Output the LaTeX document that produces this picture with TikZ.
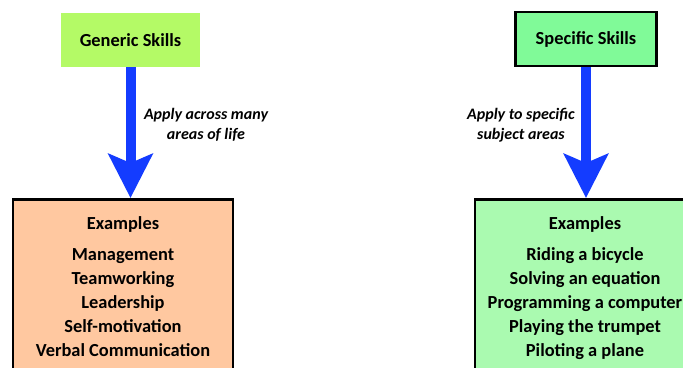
\documentclass[tikz,border=0pt]{standalone}
\usepackage{fontspec}
\setmainfont{Carlito}
\usepackage{xcolor}
\usepackage{tikz}
\usetikzlibrary{arrows.meta,positioning}
\definecolor{skedge}{RGB}{0,0,0}
\definecolor{skgen}{RGB}{180,250,102}
\definecolor{skspec}{RGB}{128,250,152}
\definecolor{skgenex}{RGB}{255,200,160}
\definecolor{skspecex}{RGB}{170,250,176}
\definecolor{skarrow}{RGB}{20,60,255}
\tikzset{
  skbox/.style={
    align=center, inner sep=0pt, font=\fontsize{18.4}{24}\selectfont\bfseries,
    minimum height=54pt
  },
  gen/.style={skbox, fill=skgen},
  spec/.style={skbox, fill=skspec, draw=skedge, line width=2.5pt},
  exbox/.style={
    draw=skedge, line width=2.5pt, align=center, anchor=north,
    inner xsep=4pt, inner ysep=17pt, font=\fontsize{18.4}{24}\selectfont\bfseries
  },
  genex/.style={exbox, fill=skgenex},
  specex/.style={exbox, fill=skspecex},
  bigarr/.style={-{Stealth[length=44pt,width=44pt,inset=9pt]}, draw=skarrow, line width=10pt},
  anno/.style={font=\fontsize{16}{20}\selectfont\bfseries\itshape, align=center},
  every picture/.append style={line join=miter}
}
\begin{document}
\begin{tikzpicture}[x=1pt,y=-1pt]
  \clip (0,0) rectangle (683,367);
  \fill[white] (0,0) rectangle (683,367);
  \node[gen, minimum width=139pt] (generic) at (130.5,40) {Generic Skills};
  \node[spec, minimum width=141pt] (specific) at (586,39) {Specific Skills};
  \node[genex, minimum width=220pt] (genlist) at (123,198)
    {Examples\\[7pt] Management\\ Teamworking\\ Leadership\\ Self-motivation\\ Verbal Communication};
  \node[specex, minimum width=220pt] (speclist) at (585,198)
    {Examples\\[7pt] Riding a bicycle\\ Solving an equation\\ Programming a computer\\ Playing the trumpet\\ Piloting a plane};
  \draw[bigarr] (generic.south) -- (generic.south |- genlist.north);
  \draw[bigarr] (specific.south) -- (specific.south |- speclist.north);
  \node[anno] (genlab) at (206,125) {Apply across many\\ areas of life};
  \node[anno] (speclab) at (521,125) {Apply to specific\\ subject areas};
\end{tikzpicture}
\end{document}
